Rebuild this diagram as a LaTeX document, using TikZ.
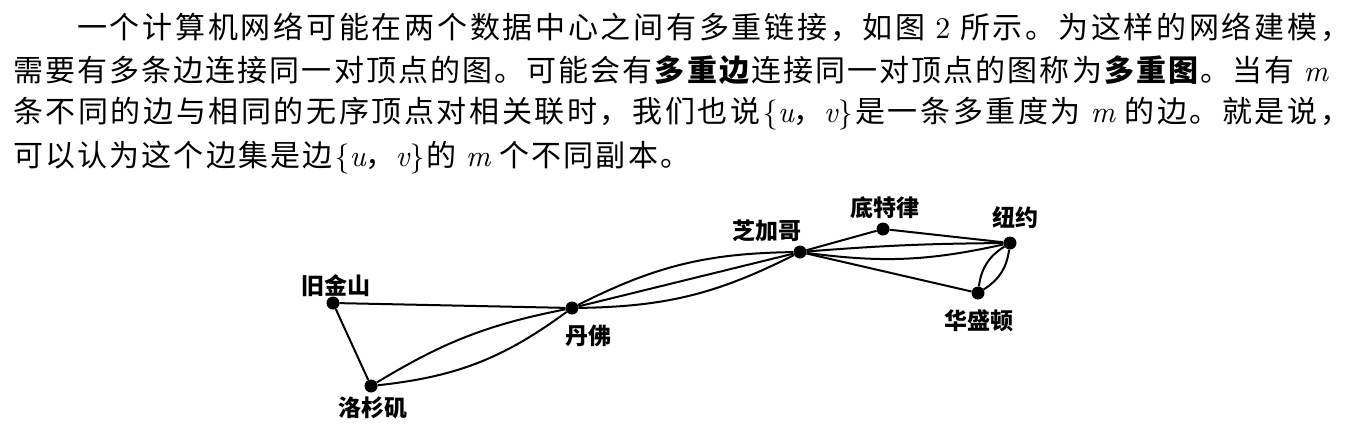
\documentclass[tikz,border=0pt]{standalone}
\usepackage{fontspec}
\setmainfont{Noto Sans CJK SC}
\newfontfamily\lmfam{lmroman10}[Extension=.otf, UprightFont=*-regular, ItalicFont=*-italic]
\newcommand\mi[1]{{\lmfam\itshape #1}}
\newcommand\lb{{\lmfam\{}}
\newcommand\rb{{\lmfam\}}}
\newXeTeXintercharclass\cjkcls
\count255="4E00
\loop
  \XeTeXcharclass\count255=\cjkcls
  \advance\count255 by 1
\ifnum\count255<"A000 \repeat
\XeTeXcharclass"FF0C=\cjkcls
\XeTeXcharclass"3002=\cjkcls
\XeTeXinterchartoks\cjkcls\cjkcls={\hskip0pt plus 1fil\relax}
\XeTeXinterchartokenstate=1
\newcommand\gapfil{\hskip0pt plus 1fil\relax}
\newcommand\sgap{\hskip7pt plus 1fil\relax}
\tikzset{
  dot/.style={circle, fill=black, inner sep=0pt, minimum size=13pt},
  edge/.style={line width=2pt, draw=black},
  lbl/.style={font=\fontsize{23}{23}\selectfont\bfseries, inner sep=0pt, anchor=base},
  txt/.style={font=\fontsize{30}{30}\selectfont, inner sep=0pt, anchor=base west},
}
\begin{document}
\begin{tikzpicture}[x=1pt,y=-1pt]
\fill[white] (0,0) rectangle (1354,426);
\useasboundingbox (0,0) rectangle (1354,426);
% paragraph
\node[txt] (l1) at (77,38) {\hbox to 1273pt{一个计算机网络可能在两个数据中心之间有多重链接，如图\sgap{\lmfam 2}\sgap 所示。为这样的网络建模，}};
\node[txt] (l2) at (13,81.5) {\hbox to 1315pt{需要有多条边连接同一对顶点的图。可能会有\gapfil\textbf{多重边}\gapfil 连接同一对顶点的图称为\gapfil\textbf{多重图}\gapfil 。当有\sgap\mi{m}}};
\node[txt] (l3) at (13,122.5) {\hbox to 1337pt{条不同的边与相同的无序顶点对相关联时，我们也说\gapfil\lb\mi{u}，\mi{v}\rb\gapfil 是一条多重度为\sgap\mi{m}\sgap 的边。就是说，}};
\node[txt] (l4) at (13,166) {\hbox to 677pt{可以认为这个边集是边\gapfil\lb\mi{u}，\mi{v}\rb\gapfil 的\sgap\mi{m}\sgap 个不同副本。}};
% vertices
\node[dot] (sf) at (333,303) {};
\node[dot] (la) at (371,386) {};
\node[dot] (den) at (572,308) {};
\node[dot] (chi) at (800,252) {};
\node[dot] (det) at (883,229) {};
\node[dot] (ny) at (1010,243) {};
\node[dot] (wash) at (978,293) {};
% labels
\node[lbl] (lsf) at (336,294) {旧金山};
\node[lbl] (lla) at (373,416) {洛杉矶};
\node[lbl] (lden) at (588,344) {丹佛};
\node[lbl] (lchi) at (767,239) {芝加哥};
\node[lbl] (ldet) at (885,216) {底特律};
\node[lbl] (lny) at (1015,226) {纽约};
\node[lbl] (lwash) at (979,329) {华盛顿};
% edges
\draw[edge] (sf) -- (den);
\draw[edge] (sf) -- (la);
\draw[edge] (la) to[bend left=10] (den);
\draw[edge] (la) to[bend right=15] (den);
\draw[edge] (den) -- (chi);
\draw[edge] (den) to[bend left=13] (chi);
\draw[edge] (den) to[bend right=13] (chi);
\draw[edge] (chi) -- (det);
\draw[edge] (det) -- (ny);
\draw[edge] (chi) to[bend left=2] (ny);
\draw[edge] (chi) to[bend right=10] (ny);
\draw[edge] (chi) -- (wash);
\draw[edge] (wash) to[bend left=25] (ny);
\draw[edge] (wash) to[bend right=25] (ny);
\end{tikzpicture}
\end{document}
